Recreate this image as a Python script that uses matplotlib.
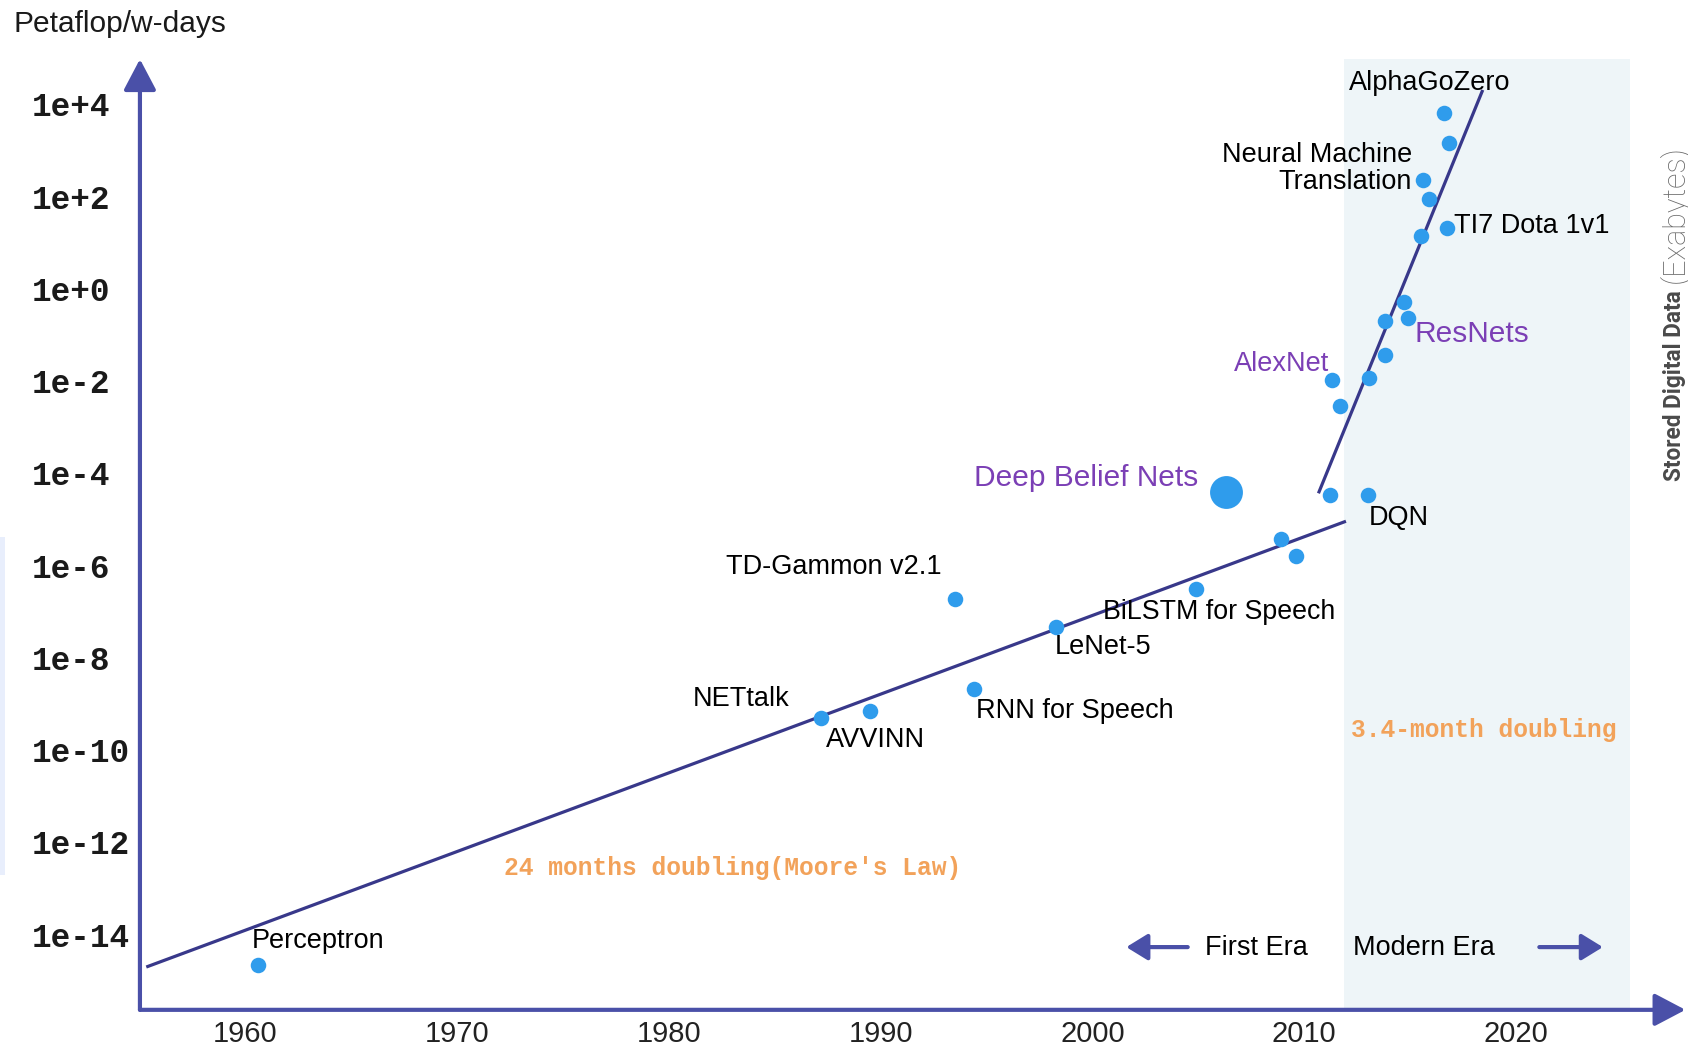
import numpy as np
import matplotlib.pyplot as plt
from matplotlib.patches import Rectangle

# %% Data (year, log10 of petaflop/s-days)
years = [1960.6, 1987.2, 1989.5, 1993.5, 1994.4, 1998.3, 2004.9, 2008.9, 2009.6,
         2011.2, 2013.0, 2011.3, 2011.7, 2013.05, 2013.8, 2013.8, 2014.7, 2014.9,
         2015.5, 2016.75, 2015.9, 2015.6, 2016.85, 2016.6]
log_compute = [-14.65, -9.30, -9.16, -6.73, -8.67, -7.34, -6.50, -5.43, -5.80,
               -4.47, -4.47, -1.97, -2.53, -1.93, -1.44, -0.69, -0.29, -0.64,
               1.15, 1.32, 1.95, 2.37, 3.16, 3.81]
dbn_year, dbn_log = 2006.3, -4.40  # Deep Belief Nets (large marker)

moore_years = [1955.4, 2011.9]
moore_log = [-14.69, -5.05]
modern_years = [2010.7, 2018.4]
modern_log = [-4.40, 4.28]

x_ticks = [1960, 1970, 1980, 1990, 2000, 2010, 2020]
y_exps = [4, 2, 0, -2, -4, -6, -8, -10, -12, -14]
y_labels = ["1e+4", "1e+2", "1e+0", "1e-2", "1e-4", "1e-6", "1e-8", "1e-10", "1e-12", "1e-14"]

# text, year, log10, ha, colour, size
labels = [
    ("Perceptron", 1960.3, -14.13, "left", "k", 19.5),
    ("NETtalk", 1985.7, -8.90, "right", "k", 19.5),
    ("AVVINN", 1987.4, -9.77, "left", "k", 19.5),
    ("TD-Gammon v2.1", 1982.7, -6.03, "left", "k", 19.5),
    ("RNN for Speech", 1994.5, -9.16, "left", "k", 19.5),
    ("LeNet-5", 1998.2, -7.76, "left", "k", 19.5),
    ("BiLSTM for Speech", 2000.5, -7.01, "left", "k", 19.3),
    ("DQN", 2013.05, -4.96, "left", "k", 19.5),
    ("TI7 Dota 1v1", 2017.06, 1.36, "left", "k", 19.5),
    ("Neural Machine\nTranslation", 2015.1, 2.60, "right", "k", 19.5),
    ("AlphaGoZero", 2012.1, 4.47, "left", "k", 19.5),
    ("Deep Belief Nets", 2005.0, -4.10, "right", "#7b3fb5", 21.5),
    ("ResNets", 2015.2, -0.97, "left", "#7b3fb5", 21.5),
    ("AlexNet", 2011.2, -1.62, "right", "#7b3fb5", 19.5),
    ("First Era", 2005.3, -14.30, "left", "k", 19.5),
    ("Modern Era", 2012.3, -14.30, "left", "k", 19.5),
]

AXIS_C = "#4a50a8"
LINE_C = "#38388a"
DOT_C = "#2f9cec"
ORANGE = "#f2a25a"
SANS = "Liberation Sans"

# %% Figure
fig = plt.figure(figsize=(16.88, 10.47), dpi=100)
ax = fig.add_axes([0.0829, 0.0355, 0.9171 - 0.0015, 0.908])
ax.set_yscale("log")
ax.set_xlim(1955.03, 2028.0)
ax.set_ylim(10 ** -15.63, 10 ** 4.98)
for s in ax.spines.values():
    s.set_visible(False)

# modern era shading
ax.axvspan(2011.9, 2025.4, color="#eef5f8", zorder=0, lw=0)

# axis arrows
arrow_kw = dict(arrowstyle="-|>,head_length=19,head_width=10", mutation_scale=1,
                color=AXIS_C, lw=3, shrinkA=0, shrinkB=0)
ax.annotate("", xy=(0, 1), xytext=(0, 0), xycoords="axes fraction",
            arrowprops=arrow_kw, annotation_clip=False)
ax.annotate("", xy=(1, 0), xytext=(0, 0), xycoords="axes fraction",
            arrowprops=arrow_kw, annotation_clip=False)

# ticks
ax.set_xticks(x_ticks)
ax.set_xticklabels([str(t) for t in x_ticks], fontsize=21, family=SANS, color="#222222")
ax.set_yticks([10.0 ** e for e in y_exps])
ax.set_yticklabels(y_labels, fontsize=23.5, family="Liberation Mono",
                   fontweight="bold", color="#1a1a1a")
ax.minorticks_off()
ax.tick_params(axis="x", length=0, pad=7)
ax.tick_params(axis="y", length=0, pad=78)
for lab in ax.get_yticklabels():
    lab.set_horizontalalignment("left")

# trend lines
ax.plot(moore_years, 10.0 ** np.array(moore_log), color=LINE_C, lw=2.3, zorder=2)
ax.plot(modern_years, 10.0 ** np.array(modern_log), color=LINE_C, lw=2.3, zorder=2)

# points
ax.scatter(years, 10.0 ** np.array(log_compute), s=125, color=DOT_C, zorder=3, lw=0)
ax.scatter([dbn_year], [10.0 ** dbn_log], s=560, color=DOT_C, zorder=3, lw=0)

# labels
for txt, x, y, ha, c, fs in labels:
    ax.text(x, 10.0 ** y, txt, ha=ha, va="center", color=c, fontsize=fs,
            family=SANS, linespacing=1.05, zorder=4)

ax.text(1972.2, 10.0 ** -12.55, "24 months doubling(Moore's Law)", ha="left",
        va="center", color=ORANGE, fontsize=17.7, family="Liberation Mono",
        fontweight="bold")
ax.text(2012.2, 10.0 ** -9.56, "3.4-month doubling", ha="left", va="center",
        color=ORANGE, fontsize=17.7, family="Liberation Mono", fontweight="bold")

# era arrows
era_kw = dict(arrowstyle="-|>,head_length=13,head_width=8", mutation_scale=1,
              color=AXIS_C, lw=3, shrinkA=0, shrinkB=0)
ax.annotate("", xy=(2001.6, 10 ** -14.27), xytext=(2004.5, 10 ** -14.27),
            arrowprops=era_kw)
ax.annotate("", xy=(2024.1, 10 ** -14.27), xytext=(2021.1, 10 ** -14.27),
            arrowprops=era_kw)

# titles
fig.text(14 / 1688, 1 - 24 / 1047, "Petaflop/w-days", ha="left", va="center",
         fontsize=21.5, family=SANS, color="#1a1a1a")

# right-hand vertical caption: bold part, then a light part
cap_x = 1674 / 1688
t1 = fig.text(cap_x, 1 - 481 / 1047, "Stored Digital Data", rotation=90,
              ha="center", va="bottom", fontsize=16.3, family="Roboto",
              fontweight="bold", color="#4a4a4a")
fig.canvas.draw()
r = fig.canvas.get_renderer()
y0 = t1.get_window_extent(r).y1 + 7
t2 = fig.text(cap_x + 0.0006, y0 / fig.bbox.height, "(Exabytes)", rotation=90,
              ha="center", va="bottom", fontsize=19, family="Roboto",
              fontweight="light", color="#6a6a6a")
# stretch the light part to end where the reference caption ends
h = t2.get_window_extent(r).height
t2.set_fontsize(min(22, 19 * (1047 - 129 - y0) / h))

# faint strip at the left edge
fig.patches.append(Rectangle((0, 1 - 875 / 1047), 5 / 1688, 338 / 1047,
                             transform=fig.transFigure, color="#e8eefc", lw=0))

fig.savefig("out.png", dpi=100)
